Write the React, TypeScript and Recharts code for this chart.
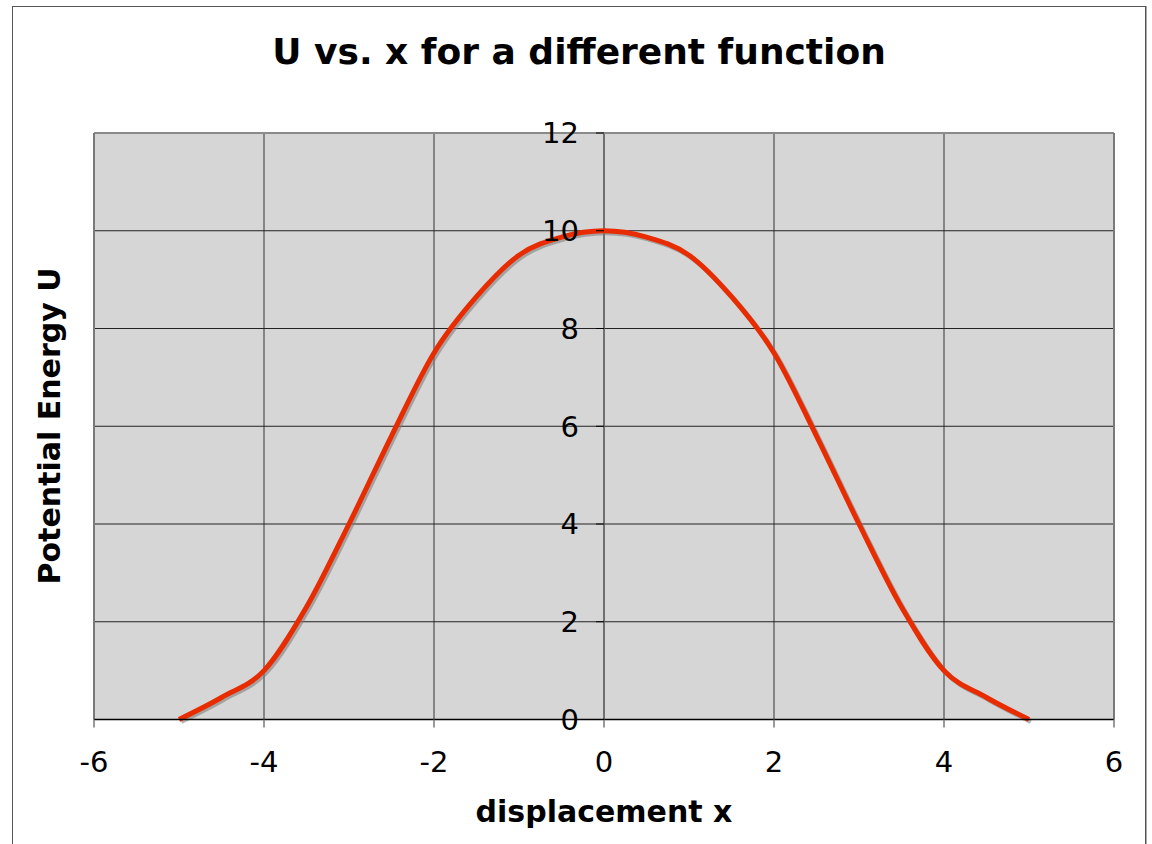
import React from "react";
import {
  LineChart,
  Line,
  XAxis,
  YAxis,
  CartesianGrid,
  ReferenceLine,
} from "recharts";

// sample points of U(x), symmetric about x = 0
const xValues = [
  -5, -4.5, -4, -3.5, -3, -2.5, -2, -1.5, -1, -0.5, 0,
  0.5, 1, 1.5, 2, 2.5, 3, 3.5, 4, 4.5, 5,
];
const uValues = [
  0, 0.45, 1, 2.3, 4, 5.8, 7.5, 8.65, 9.5, 9.87, 10,
  9.87, 9.5, 8.65, 7.5, 5.8, 4, 2.3, 1, 0.45, 0,
];

const xTicks = [-6, -4, -2, 0, 2, 4, 6];
const yTicks = [0, 2, 4, 6, 8, 10, 12];

const data = xValues.map((x, i) => ({ x, u: uValues[i] }));

const W = 1152;
const H = 844;
const PLOT_LEFT = 94;
const PLOT_RIGHT = 1114;
const PLOT_TOP = 133;
const PLOT_BOTTOM = 719.5;
const X_AXIS_H = 60;

const FONT = "'DejaVu Sans', Verdana, sans-serif";

// x pixel of the value axis, which crosses at x = 0
const zeroX =
  PLOT_LEFT +
  ((PLOT_RIGHT - PLOT_LEFT) * (0 - xTicks[0])) /
    (xTicks[xTicks.length - 1] - xTicks[0]);

function YTick(props: any) {
  const { y, payload } = props;
  return (
    <g>
      <line x1={zeroX - 8} x2={zeroX} y1={y} y2={y} stroke="#000" strokeWidth={1} />
      <text
        x={zeroX - 25}
        y={y}
        dy="0.36em"
        textAnchor="end"
        fontSize={29}
        fontFamily={FONT}
        fill="#000"
      >
        {payload.value}
      </text>
    </g>
  );
}

export default function App() {
  return (
    <div
      style={{
        position: "absolute",
        left: 0,
        top: 0,
        width: W,
        height: H,
        overflow: "hidden",
        background: "#fff",
      }}
    >
      <style>{`.u-line path { filter: drop-shadow(2px 2px 0px rgba(120,120,120,0.55)); }`}</style>
      {/* outer chart frame */}
      <div
        style={{
          position: "absolute",
          left: 12,
          top: 6,
          width: 1132,
          height: 900,
          border: "1.5px solid #555",
          boxShadow: "1px 0 0 #aaa",
        }}
      />
      <div
        style={{
          position: "absolute",
          left: 12,
          width: 1134,
          top: 32,
          height: 40,
          lineHeight: "40px",
          textAlign: "center",
          fontFamily: FONT,
          fontWeight: "bold",
          fontSize: 36,
          color: "#000",
        }}
      >
        U vs. x for a different function
      </div>
      <div style={{ position: "absolute", left: 0, top: 0 }}>
        <LineChart
          width={W}
          height={H}
          data={data}
          margin={{
            top: PLOT_TOP,
            right: W - PLOT_RIGHT,
            bottom: H - PLOT_BOTTOM - X_AXIS_H,
            left: PLOT_LEFT - 1,
          }}
        >
          <CartesianGrid
            fill="#d6d6d6"
            horizontal={false}
            stroke="#6a6a6a"
            strokeWidth={1.5}
            strokeOpacity={1}
          />
          <CartesianGrid
            vertical={false}
            stroke="#222"
            strokeWidth={1}
            strokeOpacity={1}
          />
          <XAxis
            dataKey="x"
            type="number"
            domain={[-6, 6]}
            ticks={xTicks}
            height={X_AXIS_H}
            axisLine={{ stroke: "#000", strokeWidth: 1.5 }}
            tickLine={{ stroke: "#777", strokeWidth: 1.5 }}
            tickSize={8}
            tickMargin={24}
            tick={{ fontSize: 29, fontFamily: FONT, fill: "#000" }}
            allowDataOverflow
          />
          <YAxis
            type="number"
            domain={[0, 12]}
            ticks={yTicks}
            width={1}
            interval={0}
            axisLine={false}
            tickLine={false}
            tick={(p: any) => <YTick {...p} />}
          />
          <ReferenceLine x={0} stroke="#6a6a6a" strokeWidth={1.5} />
          {/* plot border: top, left and right edges */}
          <ReferenceLine y={12} stroke="#8a8a8a" strokeWidth={2} />
          <ReferenceLine x={6} stroke="#7a7a7a" strokeWidth={2} />
          <ReferenceLine x={-6} stroke="#7a7a7a" strokeWidth={2} />
          <Line
            className="u-line"
            type="monotone"
            dataKey="u"
            stroke="#e82c00"
            strokeWidth={5}
            dot={false}
            isAnimationActive={false}
          />
        </LineChart>
      </div>
      <div
        style={{
          position: "absolute",
          left: PLOT_LEFT,
          width: PLOT_RIGHT - PLOT_LEFT,
          top: 797,
          height: 30,
          lineHeight: "30px",
          textAlign: "center",
          fontFamily: FONT,
          fontWeight: "bold",
          fontSize: 30,
          color: "#000",
        }}
      >
        displacement x
      </div>
      <div
        style={{
          position: "absolute",
          left: 50 - 250,
          width: 500,
          top: (PLOT_TOP + PLOT_BOTTOM) / 2 - 15,
          height: 30,
          lineHeight: "30px",
          textAlign: "center",
          fontFamily: FONT,
          fontWeight: "bold",
          fontSize: 30,
          color: "#000",
          transform: "rotate(-90deg)",
        }}
      >
        Potential Energy U
      </div>
    </div>
  );
}
